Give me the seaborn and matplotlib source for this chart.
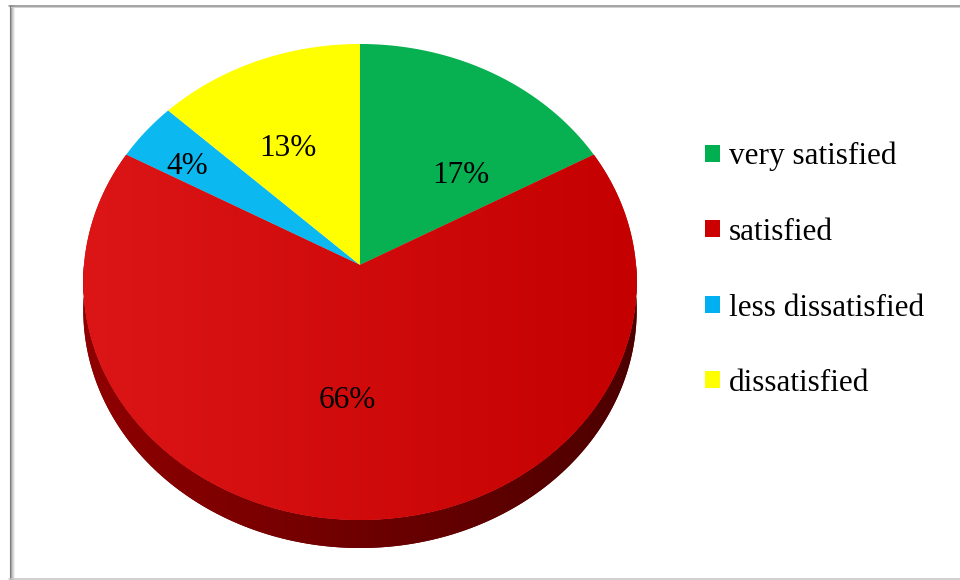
import numpy as np
import matplotlib
matplotlib.use("Agg")
import matplotlib.pyplot as plt
import seaborn as sns
from matplotlib import transforms as mtransforms
from matplotlib.path import Path
from matplotlib.patches import Polygon, Patch
from matplotlib.colors import LinearSegmentedColormap

# ---- data -------------------------------------------------------------
categories = ["very satisfied", "satisfied", "less dissatisfied", "dissatisfied"]
shares = [17, 66, 4, 13]
slice_colors = ["#07b050", "#cf0a0a", "#0bb8f0", "#ffff00"]
legend_colors = ["#00b050", "#cc0000", "#00b0f0", "#ffff00"]

# ---- label placement on the disc (angle in degrees, radius) -----------
label_angle = [47, -94.8, 145.5, 117.2]
label_radius = [0.552, 0.538, 0.784, 0.591]


class TiltedDisc(mtransforms.Transform):
    """Map unit-disc coordinates to a tilted, perspective view in pixel space."""
    input_dims = 2
    output_dims = 2
    is_separable = False
    has_inverse = False

    def __init__(self, cx, cy, rx, ry, k, drop=0.0):
        super().__init__()
        self.cx, self.cy, self.rx, self.ry, self.k, self.drop = cx, cy, rx, ry, k, drop

    def transform_non_affine(self, values):
        values = np.asarray(values, dtype=float)
        u, v = values[..., 0], values[..., 1]
        s = 1.0 + self.k * v
        return np.stack([self.cx + self.rx * u / s,
                         self.cy - self.ry * v / s + self.drop], axis=-1)

    def transform_path_non_affine(self, path):
        # sample every Bezier segment densely so curves stay smooth
        pts = []
        for seg, code in path.iter_bezier():
            if code == Path.MOVETO:
                pts.append(np.atleast_2d(seg.control_points[0]))
                continue
            n = 2 if seg.degree <= 1 else 40
            t = np.linspace(0, 1, n + 1)[1:]
            pts.append(seg(t))
        verts = np.concatenate(pts)
        codes = np.full(len(verts), Path.LINETO, dtype=Path.code_type)
        codes[0] = Path.MOVETO
        return Path(self.transform_non_affine(verts), codes)


sns.set_theme(style="white")
plt.rcParams["font.family"] = ["Liberation Serif", "DejaVu Serif"]
plt.rcParams["text.color"] = "black"

fig = plt.figure(figsize=(9.6, 5.8), dpi=100)
ax = fig.add_axes([0, 0, 1, 1])

wedges, _, pct_texts = ax.pie(
    shares, colors=slice_colors, startangle=90, counterclock=False,
    radius=1, center=(0, 0), autopct="%.0f%%", pctdistance=0.6,
    wedgeprops=dict(linewidth=0),
    textprops=dict(fontsize=22.5, color="black"),
)

tilt = TiltedDisc(360, 265, 276, 236.8, 0.0714)
for w in wedges:
    w.set_transform(tilt + ax.transData)
    w.set_zorder(1)

# cylinder side under the disc
theta = np.linspace(np.pi, 2 * np.pi, 400)
rim = np.column_stack([np.cos(theta), np.sin(theta)])
top_rim = tilt.transform(rim)
bottom_rim = top_rim + np.array([0, 28])
side = Polygon(np.vstack([top_rim, bottom_rim[::-1]]), closed=True,
               facecolor="#6a0000", edgecolor="none", zorder=0.5)
ax.add_patch(side)

grad = np.linspace(0, 1, 256)[None, :]
side_cmap = LinearSegmentedColormap.from_list("side", ["#900000", "#4c0000"])
im_side = ax.imshow(grad, cmap=side_cmap, extent=(80, 640, 560, 250),
                    aspect="auto", zorder=0.6, interpolation="bilinear")
im_side.set_clip_path(side)

face_cmap = LinearSegmentedColormap.from_list("face", ["#dc1616", "#c50000"])
im_face = ax.imshow(grad, cmap=face_cmap, extent=(80, 640, 525, 40),
                    aspect="auto", zorder=1.1, interpolation="bilinear")
im_face.set_clip_path(wedges[1])

# percentage labels
for t, ang, r in zip(pct_texts, label_angle, label_radius):
    a = np.deg2rad(ang)
    x, y = tilt.transform(np.array([[r * np.cos(a), r * np.sin(a)]]))[0]
    t.set_position((x, y + 3))
    t.set_ha("center")
    t.set_va("center")
    t.set_color("black")
    t.set_zorder(3)

# legend
handles = [Patch(facecolor=c, edgecolor="none") for c in legend_colors]
leg = ax.legend(handles, categories, loc="center left",
                bbox_to_anchor=(705 / 960, 1 - 270 / 580), bbox_transform=fig.transFigure,
                frameon=False, fontsize=22.5, handlelength=0.48, handleheight=0.46,
                handletextpad=0.28, labelspacing=1.49, borderpad=0, borderaxespad=0)
for txt in leg.get_texts():
    txt.set_color("black")

# chart frame
for xpos, col in zip([9.5, 11, 12, 13, 14], ["#7a7a7a", "#a4a4a4", "#c4c4c4", "#dcdcdc", "#eeeeee"]):
    ax.plot([xpos, xpos], [5, 580], color=col, lw=0.8, clip_on=False, zorder=5)
ax.plot([9, 960], [5.5, 5.5], color="#8a8a8a", lw=1.1, clip_on=False, zorder=5)
ax.plot([11, 960], [7, 7], color="#cfcfcf", lw=0.7, clip_on=False, zorder=5)
ax.plot([9, 960], [578.5, 578.5], color="#c4c4c4", lw=1.1, clip_on=False, zorder=5)

ax.set_xlim(0, 960)
ax.set_ylim(580, 0)
ax.set_aspect("auto")
ax.axis("off")

fig.savefig("out.png", dpi=100, facecolor="white")
